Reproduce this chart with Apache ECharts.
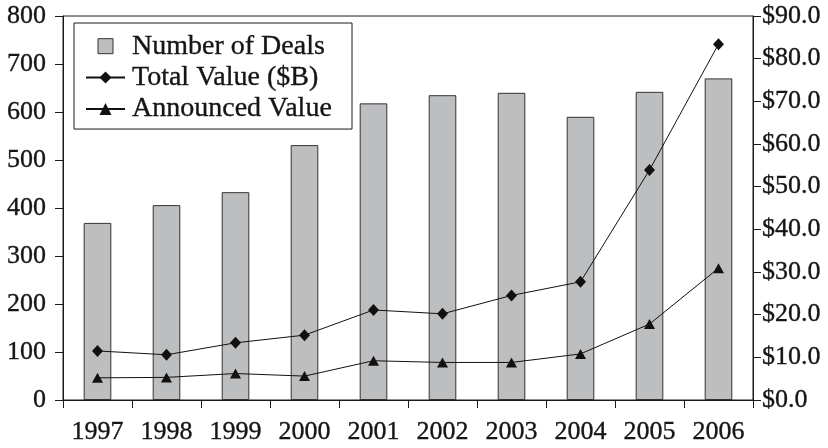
<!DOCTYPE html>
<html>
<head>
<meta charset="utf-8">
<script src="https://cdn.jsdelivr.net/npm/echarts@6/dist/echarts.min.js"></script>
<style>html,body{margin:0;padding:0;background:#fff}#c{width:828px;height:448px}</style>
</head>
<body>
<div id="c"></div>
<script>
const years = ['1997','1998','1999','2000','2001','2002','2003','2004','2005','2006'];
const numberOfDeals = [369, 406, 433, 531, 618, 635, 640, 590, 642, 670];
const totalValue = [11.5, 10.6, 13.4, 15.2, 21.1, 20.2, 24.5, 27.7, 53.9, 83.4];
const announcedValue = [5.2, 5.3, 6.2, 5.6, 9.2, 8.8, 8.8, 10.8, 17.8, 30.9];
const leftTicks = {min: 0, max: 800, interval: 100};
const rightTicks = {min: 0, max: 90, interval: 10};

const FONT = 'Liberation Serif';
const INK = '#1a1a1a';
const TXT = {fontFamily: FONT, color: '#151515', textBorderColor: '#151515', textBorderWidth: 0.35};
const chart = echarts.init(document.getElementById('c'), null, {renderer: 'canvas'});
chart.setOption({
  backgroundColor: '#fff',
  animation: false,
  textStyle: {fontFamily: FONT, color: INK},
  grid: {left: 63, right: 75, top: 16, bottom: 48, show: true, borderColor: INK, borderWidth: 1, backgroundColor: 'transparent'},
  legend: {
    left: 74, top: 23, orient: 'vertical',
    backgroundColor: '#fff', borderColor: INK, borderWidth: 1, borderRadius: 0,
    padding: [9, 20, 6, 11], itemGap: 3, itemWidth: 39, itemHeight: 15,
    textStyle: Object.assign({fontSize: 28, padding: [0, 0, 0, 2]}, TXT),
    symbolKeepAspect: true,
    data: [
      {name: 'Number of Deals', icon: 'path://M0,0L10,0L10,10L0,10Z', itemStyle: {color: '#bdbec0', borderColor: '#333', borderWidth: 1}},
      {name: 'Total Value ($B)'},
      {name: 'Announced Value'}
    ]
  },
  xAxis: {
    type: 'category', data: years, boundaryGap: true,
    axisLine: {lineStyle: {color: INK, width: 1}},
    axisTick: {show: true, length: 8, interval: 0, lineStyle: {color: INK}},
    axisLabel: Object.assign({fontSize: 26, margin: 19, interval: 0}, TXT)
  },
  yAxis: [
    {type: 'value', min: leftTicks.min, max: leftTicks.max, interval: leftTicks.interval, position: 'left',
     axisLine: {show: true, lineStyle: {color: INK}},
     axisTick: {show: true, length: 8, lineStyle: {color: INK}},
     splitLine: {show: false},
     axisLabel: Object.assign({fontSize: 26, margin: 17}, TXT)},
    {type: 'value', min: rightTicks.min, max: rightTicks.max, interval: rightTicks.interval, position: 'right',
     axisLine: {show: true, lineStyle: {color: INK}},
     axisTick: {show: true, length: 8, lineStyle: {color: INK}},
     splitLine: {show: false},
     axisLabel: Object.assign({fontSize: 26, margin: 9, formatter: v => '$' + v.toFixed(1)}, TXT)}
  ],
  series: [
    {name: 'Number of Deals', type: 'bar', yAxisIndex: 0, data: numberOfDeals, barWidth: '40%',
     itemStyle: {color: '#bdbec0', borderColor: '#333', borderWidth: 1}, z: 1},
    {name: 'Total Value ($B)', type: 'line', yAxisIndex: 1, data: totalValue,
     symbol: 'diamond', symbolSize: [11, 12], color: '#111',
     lineStyle: {color: '#111', width: 1}, itemStyle: {color: '#111'}, z: 3},
    {name: 'Announced Value', type: 'line', yAxisIndex: 1, data: announcedValue,
     symbol: 'triangle', symbolSize: [11, 10], color: '#111',
     lineStyle: {color: '#111', width: 1}, itemStyle: {color: '#111'}, z: 3}
  ]
});
</script>
</body>
</html>
